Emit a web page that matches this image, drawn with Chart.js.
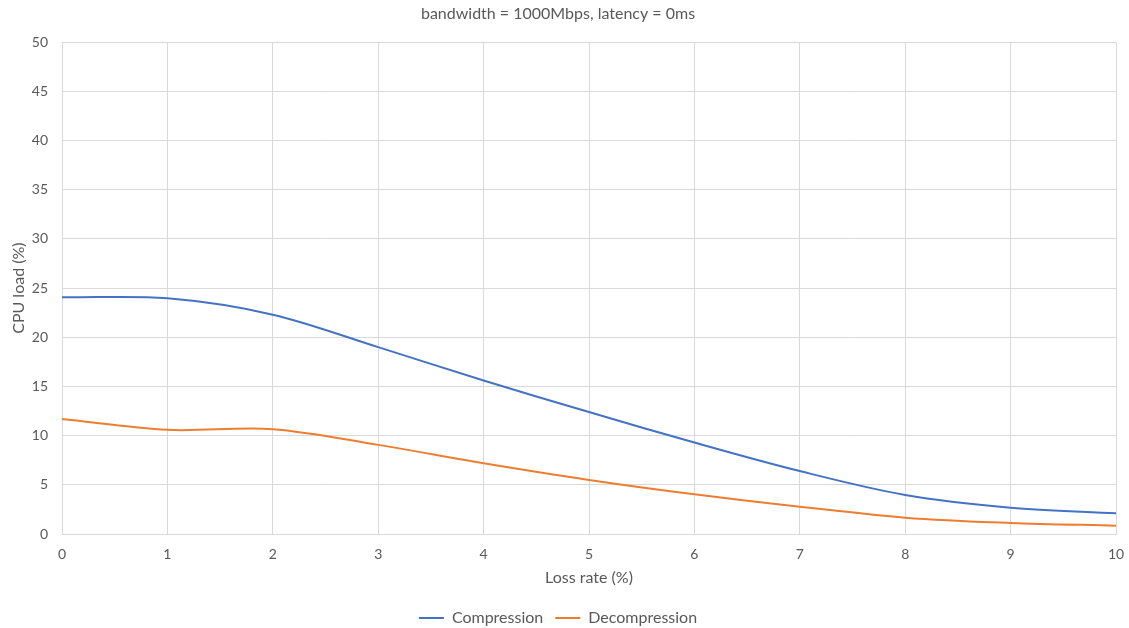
<!DOCTYPE html>
<html>
<head>
<meta charset="utf-8">
<script src="https://cdn.jsdelivr.net/npm/chart.js@4"></script>
<style>
  html, body { margin: 0; padding: 0; background: #fff; }
  #wrap { width: 1129px; height: 628px; }
</style>
</head>
<body>
<div id="wrap"><canvas id="lossChart" width="1129" height="628"></canvas></div>
<script>
// loss rate (%) on the x axis
const lossRate = [0, 1, 2, 3, 4, 5, 6, 7, 8, 9, 10];
// CPU load (%)
const compression = [24.06, 23.96, 22.3, 19.0, 15.6, 12.4, 9.3, 6.4, 3.97, 2.68, 2.1];
const decompression = [11.68, 10.59, 10.66, 9.06, 7.2, 5.5, 4.04, 2.78, 1.66, 1.12, 0.85];
const yTicks = [0, 5, 10, 15, 20, 25, 30, 35, 40, 45, 50];

const textColor = '#595959';
const gridColor = '#d9d9d9';
const fontFamily = 'Lato, "Open Sans", sans-serif';

const toPoints = (vals) => vals.map((v, i) => ({ x: lossRate[i], y: v }));

// shrink the legend box so it sits near the bottom edge like the original
const legendFitPlugin = {
    id: 'legendFit',
    beforeInit(chart) {
        const origFit = chart.legend.fit;
        chart.legend.fit = function () {
            origFit.call(this);
            this.height -= 8;
        };
    }
};

const ctx = document.getElementById('lossChart').getContext('2d');

new Chart(ctx, {
    type: 'line',
    data: {
        datasets: [{
            label: 'Compression',
            data: toPoints(compression),
            borderColor: '#4472c4',
            backgroundColor: '#4472c4',
            borderWidth: 2,
            pointRadius: 0,
            tension: 0.33
        }, {
            label: 'Decompression',
            data: toPoints(decompression),
            borderColor: '#ed7d31',
            backgroundColor: '#ed7d31',
            borderWidth: 2,
            pointRadius: 0,
            tension: 0.33
        }]
    },
    plugins: [legendFitPlugin],
    options: {
        responsive: false,
        animation: false,
        layout: { padding: { left: 0, right: 13, top: 0, bottom: 0 } },
        plugins: {
            title: {
                display: true,
                text: 'bandwidth = 1000Mbps, latency = 0ms',
                color: textColor,
                font: { family: fontFamily, size: 16, weight: 'normal', lineHeight: 1.2 },
                padding: { top: 4, bottom: 19 }
            },
            legend: {
                position: 'bottom',
                labels: {
                    color: textColor,
                    font: { family: fontFamily, size: 16 },
                    boxWidth: 25,
                    boxHeight: 2,
                    padding: 12,
                    generateLabels: (chart) =>
                        Chart.defaults.plugins.legend.labels.generateLabels(chart)
                            .map(l => ({ ...l, lineWidth: 0 }))
                }
            },
            tooltip: { enabled: false }
        },
        scales: {
            x: {
                type: 'linear',
                min: 0,
                max: 10,
                afterFit: (scale) => {
                    scale.height = 64;
                    scale.paddingLeft = 0;
                    scale.paddingRight = 0;
                },
                grid: { color: gridColor, drawTicks: false },
                border: { color: gridColor },
                ticks: {
                    stepSize: 1,
                    color: textColor,
                    padding: 12,
                    font: { family: fontFamily, size: 14 }
                },
                title: {
                    display: true,
                    text: 'Loss rate (%)',
                    color: textColor,
                    font: { family: fontFamily, size: 16 },
                    padding: { top: 4, bottom: 11 }
                }
            },
            y: {
                min: 0,
                max: 50,
                afterBuildTicks: (scale) => { scale.ticks = yTicks.map(v => ({ value: v })); },
                afterFit: (scale) => { scale.width = 62; },
                grid: { color: gridColor, drawTicks: false },
                border: { color: gridColor },
                ticks: {
                    color: textColor,
                    padding: 14,
                    font: { family: fontFamily, size: 14 }
                },
                title: {
                    display: true,
                    text: 'CPU load (%)',
                    color: textColor,
                    font: { family: fontFamily, size: 16 },
                    padding: { top: 9, bottom: 4 }
                }
            }
        }
    }
});
</script>
</body>
</html>
